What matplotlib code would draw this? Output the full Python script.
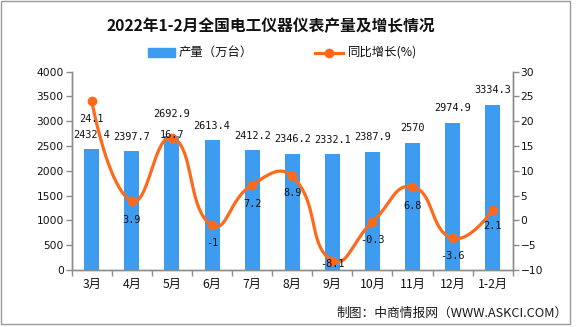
import numpy as np
import matplotlib
matplotlib.use("Agg")
import matplotlib.pyplot as plt
from matplotlib.patches import Rectangle
from matplotlib.lines import Line2D

plt.rcParams['font.family'] = ['Noto Sans CJK SC', 'DejaVu Sans']

# ---------------- data ----------------
categories = ["3月", "4月", "5月", "6月", "7月", "8月", "9月", "10月", "11月", "12月", "1-2月"]
output_vals = [2432.4, 2397.7, 2692.9, 2613.4, 2412.2, 2346.2, 2332.1, 2387.9, 2570, 2974.9, 3334.3]
growth_vals = [24.1, 3.9, 16.7, -1, 7.2, 8.9, -8.1, -0.3, 6.8, -3.6, 2.1]
output_labels = ["2432.4", "2397.7", "2692.9", "2613.4", "2412.2", "2346.2", "2332.1", "2387.9", "2570", "2974.9", "3334.3"]
growth_labels = ["24.1", "3.9", "16.7", "-1", "7.2", "8.9", "-8.1", "-0.3", "6.8", "-3.6", "2.1"]
left_ticks = [0, 500, 1000, 1500, 2000, 2500, 3000, 3500, 4000]
right_ticks = [-10, -5, 0, 5, 10, 15, 20, 25, 30]

title = "2022年1-2月全国电工仪器仪表产量及增长情况"
legend_bar = "产量（万台）"
legend_line = "同比增长(%)"
footer = "制图：中商情报网（WWW.ASKCI.COM）"

# ---------------- style ----------------
BAR_C = "#3d9cef"
LINE_C = "#fd6a1c"
AX_C = "#8c8c8c"
TXT_C = "#111111"
# label offsets (in pixels, positive = up)
bar_lab_dy = [14.5, 14.5, 22.5, 14.5, 14.5, 14.5, 14.5, 14.5, 14.5, 14.5, 14.5]
line_lab_dy = [-18, -19, 3, -18, -19, -17, -3, -18, -19, -18, -16]

W, H = 581, 327
fig = plt.figure(figsize=(W / 100, H / 100), dpi=100)
fig.patch.set_facecolor("white")

L, R, T, B = 71.7, 512.7, 71.7, 270.0
ax = fig.add_axes([L / W, 1 - B / H, (R - L) / W, (B - T) / H])
ax2 = ax.twinx()

x = np.arange(len(categories))
ax.bar(x, output_vals, width=0.375, color=BAR_C, zorder=2)
ax.set_xlim(-0.5, len(categories) - 0.5)
ax.set_ylim(0, 4000)
ax2.set_ylim(-10, 30)
ax.set_yticks(left_ticks)
ax2.set_yticks(right_ticks)

for a in (ax, ax2):
    for s in a.spines.values():
        s.set_color(AX_C)
        s.set_linewidth(1.0)
    a.spines['top'].set_visible(False)
    a.tick_params(axis='y', length=4.2, width=1, color=AX_C, labelcolor=TXT_C,
                  labelsize=7.7, pad=1.5)
    for lab in a.get_yticklabels():
        lab.set_family('DejaVu Sans')

ax.set_xticks(x)
ax.set_xticklabels(categories, fontsize=8.8, color=TXT_C)
ax.tick_params(axis='x', which='major', length=0, pad=6)
ax.set_xticks(np.arange(-0.5, len(categories), 1.0), minor=True)
ax.tick_params(axis='x', which='minor', length=4.2, width=1, color=AX_C)

# smooth line (echarts-like bezier smoothing computed in display space)
fig.canvas.draw()
pts = ax2.transData.transform(np.column_stack([x, growth_vals]))
n = len(pts)
smooth = 0.5
cps = []
for i in range(n):
    p = pts[i]
    if i == 0 or i == n - 1:
        cps.append((p, p))
        continue
    v = (pts[i + 1] - pts[i - 1]) * smooth
    d0 = np.linalg.norm(p - pts[i - 1])
    d1 = np.linalg.norm(pts[i + 1] - p)
    s = d0 + d1
    d0, d1 = d0 / s, d1 / s
    cps.append((p - v * d0, p + v * d1))
curve = []
tt = np.linspace(0, 1, 40)[:, None]
for i in range(n - 1):
    p0 = pts[i]
    c1 = cps[i][1]
    c2 = cps[i + 1][0]
    p1 = pts[i + 1]
    seg = ((1 - tt) ** 3) * p0 + 3 * ((1 - tt) ** 2) * tt * c1 + 3 * (1 - tt) * tt ** 2 * c2 + tt ** 3 * p1
    curve.append(seg if i == 0 else seg[1:])
curve = np.vstack(curve)
curve_data = ax2.transData.inverted().transform(curve)
ax2.plot(curve_data[:, 0], curve_data[:, 1], color=LINE_C, lw=2.3, zorder=3, solid_capstyle='round')
ax2.plot(x, growth_vals, 'o', color=LINE_C, markersize=6, zorder=4)

# labels
for i in range(n):
    ax.annotate(output_labels[i], (x[i], output_vals[i]), xytext=(0, bar_lab_dy[i] * 0.72),
                textcoords='offset points', ha='center', va='center', fontsize=7.4,
                family='DejaVu Sans Mono', color=TXT_C, zorder=5)
    ax2.annotate(growth_labels[i], (x[i], growth_vals[i]), xytext=(0, line_lab_dy[i] * 0.72),
                 textcoords='offset points', ha='center', va='center', fontsize=7.4,
                 family='DejaVu Sans Mono', color=TXT_C, zorder=5)

# title
fig.text(271 / W, 1 - 26 / H, title, ha='center', va='center', fontsize=11.3,
         fontweight='bold', color=TXT_C)

# legend (manual)
fig.patches.append(Rectangle((148 / W, 1 - 57 / H), 27 / W, 9 / H, transform=fig.transFigure,
                             color=BAR_C, figure=fig))
fig.text(179 / W, 1 - 52.5 / H, legend_bar, ha='left', va='center', fontsize=8.9, color=TXT_C)
fig.lines.append(Line2D([315 / W, 343 / W], [1 - 52.5 / H, 1 - 52.5 / H], transform=fig.transFigure,
                        color=LINE_C, lw=2.3, figure=fig))
fig.lines.append(Line2D([329 / W], [1 - 52.5 / H], transform=fig.transFigure, marker='o',
                        markersize=6, color=LINE_C, figure=fig))
fig.text(348 / W, 1 - 52.5 / H, legend_line, ha='left', va='center', fontsize=8.9, color=TXT_C)

# footer
fig.text(568 / W, 1 - 313 / H, footer, ha='right', va='center', fontsize=9.2, color="#1a1a1a")

# border
fig.patches.append(Rectangle((1 / W, 1 - 324 / H), 569 / W, 323 / H, transform=fig.transFigure,
                             fill=False, edgecolor="#9a9a9a", lw=1.0, figure=fig))

fig.savefig("out.png", dpi=100)
